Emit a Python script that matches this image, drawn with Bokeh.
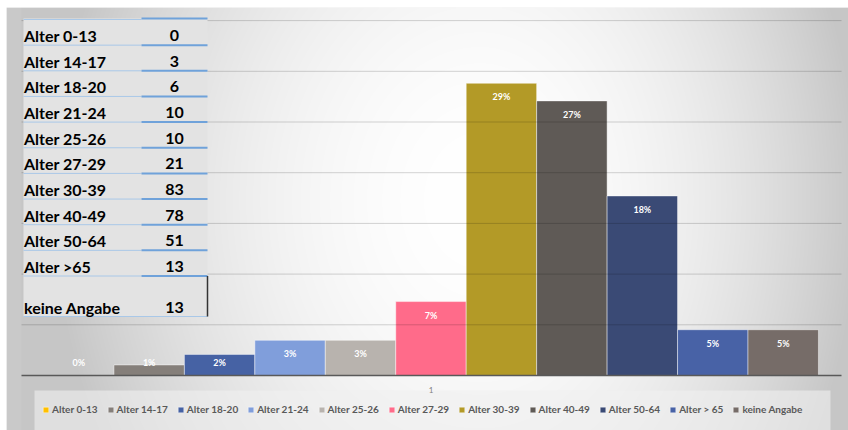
import numpy as np
from bokeh.plotting import figure
from bokeh.models import Range1d, ColumnDataSource, Legend, LegendItem
from bokeh.core.properties import value
from bokeh.embed import file_html
from bokeh.resources import INLINE

# ---------------- data ----------------
categories = ["Alter 0-13", "Alter 14-17", "Alter 18-20", "Alter 21-24", "Alter 25-26",
              "Alter 27-29", "Alter 30-39", "Alter 40-49", "Alter 50-64", "Alter > 65",
              "keine Angabe"]
table_labels = ["Alter 0-13", "Alter 14-17", "Alter 18-20", "Alter 21-24", "Alter 25-26",
                "Alter 27-29", "Alter 30-39", "Alter 40-49", "Alter 50-64", "Alter >65",
                "keine Angabe"]
counts = [0, 3, 6, 10, 10, 21, 83, 78, 51, 13, 13]
colors = ["#FFC000", "#857F7A", "#4662A4", "#809EDB", "#B8B3AE", "#FF6B8A",
          "#B39A27", "#5F5A56", "#3A4A75", "#4862A6", "#766C68"]
category_tick = "1"
grid_step = 0.05
grid_max = 0.35

# ---------------- layout helpers (page pixels -> data) ----------------
W, H = 848, 430
FR_L, FR_T = 6, 7               # chart area starts here
PA_L, PA_R = 21.0, 841.0        # plot area (grid) extent
BAR_L, BAR_W = 43.0, 70.45      # left edge of first bar, bar width (px)
BASE, PPU = 375.0, 1014.0       # baseline pixel, pixels per 100 %

def dx(px):
    return (px - BAR_L) / BAR_W - 0.5

def dy(py):
    return (BASE - py) / PPU

FONT = value("Lato")

p = figure(width=W, height=H, output_backend="svg", toolbar_location=None,
           x_range=Range1d(dx(FR_L), dx(W)), y_range=Range1d(dy(H), dy(FR_T)),
           x_axis_type=None, y_axis_type=None,
           min_border_left=FR_L, min_border_right=0, min_border_top=FR_T,
           min_border_bottom=0)
p.outline_line_color = None
p.border_fill_color = "white"
p.background_fill_color = "#efefef"

# ---------------- gradient background ----------------
fw, fh = W - FR_L, H - FR_T
px = FR_L + np.arange(fw) + 0.5
py = H - (np.arange(fh) + 0.5)
PX, PY = np.meshgrid(px, py)
rx = np.where(PX < 480, 430.0, 380.0)
d2 = ((PX - 480) / rx) ** 2 + ((PY - 200) / 520.0) ** 2
shade = 255 - 57 * np.clip(d2, 0, 1)
shade = np.where(PX < PA_L, 201, shade).astype(np.uint8)
img = np.empty((fh, fw), dtype=np.uint32)
view = img.view(dtype=np.uint8).reshape((fh, fw, 4))
view[..., 0] = shade
view[..., 1] = shade
view[..., 2] = shade
view[..., 3] = 255
p.image_rgba(image=[img], x=dx(FR_L), y=dy(H), dw=dx(W) - dx(FR_L), dh=dy(FR_T) - dy(H))

# ---------------- bars ----------------
total = float(sum(counts))
frac = np.array(counts) / total
xs = list(range(len(categories)))
pct = [f"{int(round(100 * f))}%" for f in frac]
label_y = np.maximum(frac - 13.5 / PPU, 13.0 / PPU)
src = ColumnDataSource(dict(x=xs, top=frac, color=colors, pct=pct, ly=label_y,
                            name=categories))
bars = p.vbar(x="x", top="top", bottom=0, width=1.0, source=src,
              fill_color="color", line_color="white", line_alpha=0.45, line_width=1)

# horizontal gridlines (5 % steps) over the plot area, and the category axis line
gy = [grid_step * k for k in range(1, int(round(grid_max / grid_step)) + 1)]
p.segment(x0=[dx(PA_L)] * len(gy), x1=[dx(PA_R)] * len(gy), y0=gy, y1=gy,
          line_color="black", line_alpha=0.17, line_width=1, level="guide")
p.segment(x0=[dx(PA_L)], x1=[dx(PA_R)], y0=[0], y1=[0], line_color="#595959",
          line_width=1.6, level="guide")

p.text(x="x", y="ly", text="pct", source=src, text_color="white", text_font=FONT,
       text_font_style="bold", text_font_size="9px", text_align="center",
       text_baseline="middle", level="annotation")

p.text(x=[float(np.mean(xs))], y=[dy(389)], text=[category_tick], text_color="#808080",
       text_font=FONT, text_font_size="8px", text_align="center", text_baseline="middle",
       level="annotation")

# ---------------- legend box ----------------
p.quad(left=[dx(34)], right=[dx(830)], top=[dy(390)], bottom=[dy(H)],
       fill_color="#f0f0f0", fill_alpha=0.6, line_color=None, level="guide")

# ---------------- data table overlay ----------------
T_L, T_M, T_R, T_TOP = 23.0, 141.0, 207.0, 19.0
ROW_H = 25.65
row_bottoms = [T_TOP + ROW_H * (i + 1) for i in range(len(table_labels) - 1)] + [316.0]
p.quad(left=[dx(T_L)], right=[dx(T_R)], top=[dy(T_TOP - 1)], bottom=[dy(row_bottoms[-1])],
       fill_color="#e3e3e3", line_color=None, level="annotation")
lc_y = [T_TOP] + row_bottoms[:-1]
p.segment(x0=[dx(T_L)] * len(lc_y), x1=[dx(T_M)] * len(lc_y), y0=[dy(v) for v in lc_y],
          y1=[dy(v) for v in lc_y], line_color="#A9C8E8", line_width=1, level="annotation")
rc_y = [T_TOP - 1] + row_bottoms[:-1]
p.segment(x0=[dx(T_M)] * len(rc_y), x1=[dx(T_R)] * len(rc_y), y0=[dy(v) for v in rc_y],
          y1=[dy(v) for v in rc_y], line_color="#6FA2DA", line_width=2, level="annotation")
p.segment(x0=[dx(T_L)], x1=[dx(T_R)], y0=[dy(row_bottoms[-1])], y1=[dy(row_bottoms[-1])],
          line_color="#A9C8E8", line_width=1, level="annotation")
p.segment(x0=[dx(T_R)], x1=[dx(T_R)], y0=[dy(row_bottoms[-2])], y1=[dy(row_bottoms[-1])],
          line_color="#333333", line_width=1.5, level="annotation")
tsrc = ColumnDataSource(dict(xl=[dx(T_L + 0.5)] * len(table_labels),
                             xn=[dx((T_M + T_R) / 2)] * len(table_labels),
                             y=[dy(b - 9.5) for b in row_bottoms],
                             lab=table_labels, num=[str(c) for c in counts]))
p.text(x="xl", y="y", text="lab", source=tsrc, text_color="black", text_font=FONT,
       text_font_style="bold", text_font_size="16px", text_align="left",
       text_baseline="middle", level="annotation")
p.text(x="xn", y="y", text="num", source=tsrc, text_color="black", text_font=FONT,
       text_font_style="bold", text_font_size="16px", text_align="center",
       text_baseline="middle", level="annotation")

# ---------------- legend ----------------
items = [LegendItem(label=categories[i], renderers=[bars], index=i) for i in xs]
legend = Legend(items=items, orientation="horizontal", location=(36, 15), margin=0,
                padding=10, spacing=9, glyph_width=7, glyph_height=7, label_standoff=3,
                label_height=12, label_text_font="Lato", label_text_font_style="bold",
                label_text_font_size="10px", label_text_color="#595959",
                background_fill_alpha=0, border_line_color=None)
p.add_layout(legend, "center")

open("out.html", "w").write(file_html(p, INLINE))
